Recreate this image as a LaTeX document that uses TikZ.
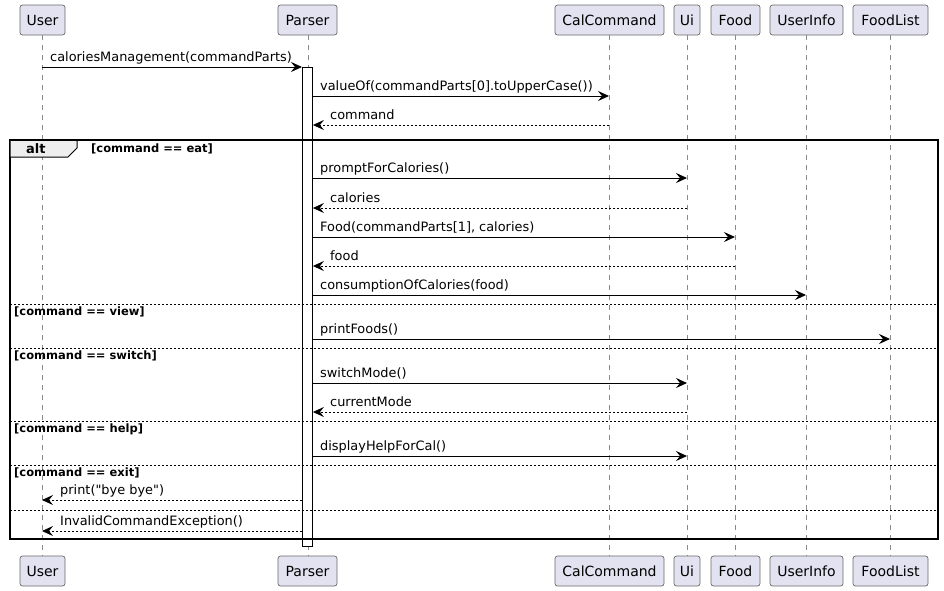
\documentclass[tikz,border=0pt]{standalone}
\usepackage{fontspec}
\setmainfont{DejaVu Sans}[Ligatures=TeXOff]
\usetikzlibrary{arrows.meta}
\definecolor{partfill}{HTML}{E2E2F0}
\definecolor{partdraw}{HTML}{6A6A6A}
\definecolor{lifecol}{HTML}{8A8A8A}
\definecolor{tabfill}{HTML}{EEEEEE}
\begin{document}
\begin{tikzpicture}[x=1pt,y=-1pt,
  part/.style={draw=partdraw, fill=partfill, rounded corners=2.5pt, line width=0.7pt,
    minimum height=30pt, inner sep=0pt, font=\fontsize{14}{16}\selectfont},
  life/.style={draw=lifecol, line width=0.7pt, dash pattern=on 5pt off 5pt},
  msg/.style={line width=0.9pt, -{Stealth[length=11pt,width=10pt,inset=4pt]}},
  ret/.style={msg, dash pattern=on 2pt off 2pt},
  mlab/.style={anchor=base west, inner sep=0pt, font=\fontsize{12.9}{15}\selectfont},
  glab/.style={anchor=base west, inner sep=0pt, font=\bfseries\fontsize{11.5}{13}\selectfont},
  sep/.style={line width=0.8pt, dash pattern=on 2pt off 2pt},
]
\useasboundingbox (0,0) rectangle (944,590);

% lifelines
\foreach \x in {42,308,609,687,735,806,890}{
  \draw[life] (\x,35) -- (\x,556);
}

% participants top
\node[part, minimum width=45pt] (userT) at (42.5,20) {User};
\node[part, minimum width=59pt] (parserT) at (307.5,20) {Parser};
\node[part, minimum width=109pt] (calT) at (609.5,20) {CalCommand};
\node[part, minimum width=26pt] (uiT) at (687,20) {Ui};
\node[part, minimum width=49pt] (foodT) at (735.5,20) {Food};
\node[part, minimum width=73pt] (uinfoT) at (806.5,20) {UserInfo};
\node[part, minimum width=75pt] (flistT) at (890.5,20) {FoodList};
% participants bottom
\node[part, minimum width=45pt] (userB) at (42.5,571) {User};
\node[part, minimum width=59pt] (parserB) at (307.5,571) {Parser};
\node[part, minimum width=109pt] (calB) at (609.5,571) {CalCommand};
\node[part, minimum width=26pt] (uiB) at (687,571) {Ui};
\node[part, minimum width=49pt] (foodB) at (735.5,571) {Food};
\node[part, minimum width=73pt] (uinfoB) at (806.5,571) {UserInfo};
\node[part, minimum width=75pt] (flistB) at (890.5,571) {FoodList};

% activation bar
\node[draw=black, fill=white, line width=0.9pt, minimum width=10pt, minimum height=479pt,
  inner sep=0pt, anchor=north west] (act) at (302,67) {};

% alt frame
\draw[line width=1.5pt] (10,140) rectangle (938,539);
\draw[line width=1pt, fill=tabfill] (10,140) -- (77,140) -- (77,148) -- (68,157) -- (10,157) -- cycle;
\draw[line width=1.5pt] (10,140) -- (938,140);
\node[anchor=base west, inner sep=0pt, font=\bfseries\fontsize{13}{15}\selectfont] (altlab) at (26,153) {alt};
\node[glab] (g1) at (91,152.5) {[command == eat]};

\foreach \y in {304,348,421,465,510}{
  \draw[sep] (10,\y) -- (938,\y);
}
\node[glab] (g2) at (14,315) {[command == view]};
\node[glab] (g3) at (14,359) {[command == switch]};
\node[glab] (g4) at (14,432) {[command == help]};
\node[glab] (g5) at (14,476) {[command == exit]};

% coordinates on lifelines
\coordinate (u1) at (42,67);
\coordinate (c2) at (609,96);
\coordinate (c3) at (609,125);
\coordinate (i4) at (687,178);
\coordinate (i5) at (687,208);
\coordinate (f6) at (735,237);
\coordinate (f7) at (735,266);
\coordinate (n8) at (806,295);
\coordinate (l9) at (890,339);
\coordinate (i10) at (687,383);
\coordinate (i11) at (687,412);
\coordinate (i12) at (687,456);
\coordinate (u13) at (42,500);
\coordinate (u14) at (42,531);

\draw[msg] (u1) -- (act.west |- u1);
\node[mlab] at (50,61.5) {caloriesManagement(commandParts)};

\draw[msg] (act.east |- c2) -- (c2);
\node[mlab] at (320,90.5) {valueOf(commandParts[0].toUpperCase())};

\draw[ret] (c3) -- (act.east |- c3);
\node[mlab] at (330,119.5) {command};

\draw[msg] (act.east |- i4) -- (i4);
\node[mlab] at (320,172.5) {promptForCalories()};

\draw[ret] (i5) -- (act.east |- i5);
\node[mlab] at (330,202.5) {calories};

\draw[msg] (act.east |- f6) -- (f6);
\node[mlab] at (320,231.5) {Food(commandParts[1], calories)};

\draw[ret] (f7) -- (act.east |- f7);
\node[mlab] at (330,260.5) {food};

\draw[msg] (act.east |- n8) -- (n8);
\node[mlab] at (320,289.5) {consumptionOfCalories(food)};

\draw[msg] (act.east |- l9) -- (l9);
\node[mlab] at (320,333.5) {printFoods()};

\draw[msg] (act.east |- i10) -- (i10);
\node[mlab] at (320,377.5) {switchMode()};

\draw[ret] (i11) -- (act.east |- i11);
\node[mlab] at (330,406.5) {currentMode};

\draw[msg] (act.east |- i12) -- (i12);
\node[mlab] at (320,450.5) {displayHelpForCal()};

\draw[ret] (act.west |- u13) -- (u13);
\node[mlab] at (60,494.5) {print("bye bye")};

\draw[ret] (act.west |- u14) -- (u14);
\node[mlab] at (60,525.5) {InvalidCommandException()};
\end{tikzpicture}
\end{document}
